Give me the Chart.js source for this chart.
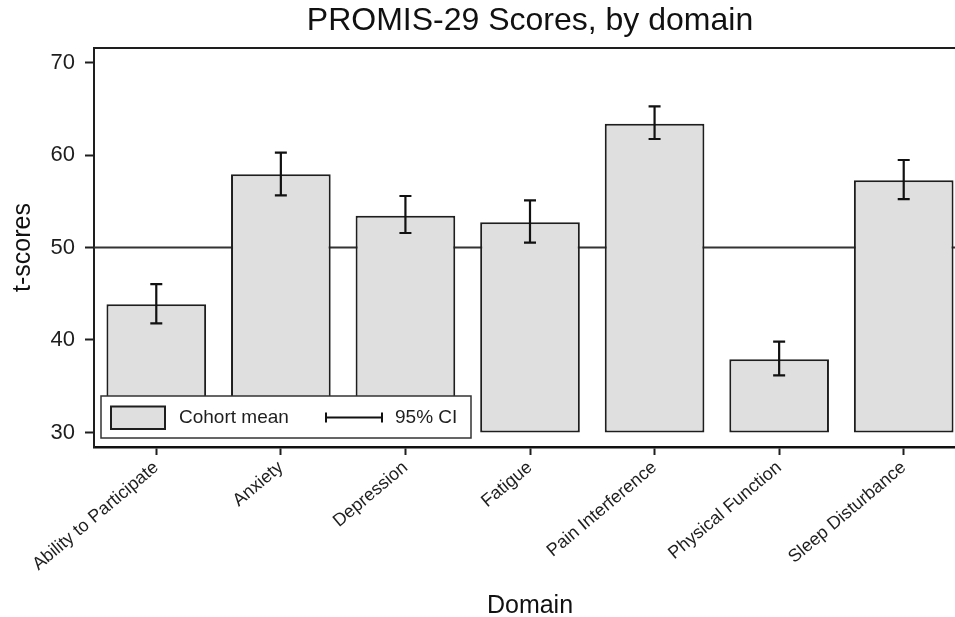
<!DOCTYPE html>
<html>
<head>
<meta charset="utf-8">
<script src="https://cdn.jsdelivr.net/npm/chart.js@4/dist/chart.umd.min.js"></script>
<style>
html, body { margin: 0; padding: 0; overflow: hidden; background: #fff; width: 955px; height: 617px; }
#wrap { width: 980px; height: 617px; }
canvas { display: block; }
</style>
</head>
<body>
<div id="wrap"><canvas id="c" width="980" height="617"></canvas></div>
<script>
// ---- data ----
const categories = ["Ability to Participate", "Anxiety", "Depression", "Fatigue", "Pain Interference", "Physical Function", "Sleep Disturbance"];
const means   = [43.86, 57.91, 53.44, 52.72, 63.38, 37.91, 57.26];
const ciLower = [41.80, 55.64, 51.57, 50.52, 61.73, 36.18, 55.24];
const ciUpper = [46.05, 60.25, 55.57, 55.10, 65.26, 39.82, 59.46];
const yTicks = [30, 40, 50, 60, 70];
const referenceValue = 50;
const barBase = 30;
const titleText = "PROMIS-29 Scores, by domain";
const xTitle = "Domain";
const yTitle = "t-scores";
const legendLabels = ["Cohort mean", "95% CI"];

// ---- styles ----
const FONT = "'Liberation Sans', Arial, Helvetica, sans-serif";
const INK = "#1e1e1e";
const BAR_FILL = "#dfdfdf";

const refLinePlugin = {
  id: 'refLine',
  beforeDatasetsDraw(chart) {
    const { ctx, chartArea, scales } = chart;
    const y = scales.y.getPixelForValue(referenceValue);
    ctx.save();
    ctx.strokeStyle = '#333';
    ctx.lineWidth = 2;
    ctx.beginPath();
    ctx.moveTo(chartArea.left, y);
    ctx.lineTo(chartArea.right, y);
    ctx.stroke();
    ctx.restore();
  }
};

const errorBarPlugin = {
  id: 'errorBars',
  afterDatasetsDraw(chart) {
    const { ctx, scales } = chart;
    const meta = chart.getDatasetMeta(0);
    ctx.save();
    ctx.strokeStyle = '#111';
    ctx.lineWidth = 2.2;
    meta.data.forEach((bar, i) => {
      const x = bar.x;
      const yl = scales.y.getPixelForValue(ciLower[i]);
      const yu = scales.y.getPixelForValue(ciUpper[i]);
      const cap = 6;
      ctx.beginPath();
      ctx.moveTo(x, yl); ctx.lineTo(x, yu);
      ctx.moveTo(x - cap, yl); ctx.lineTo(x + cap, yl);
      ctx.moveTo(x - cap, yu); ctx.lineTo(x + cap, yu);
      ctx.stroke();
    });
    ctx.restore();
  }
};

const framePlugin = {
  id: 'frame',
  afterDatasetsDraw(chart) {
    const { ctx, chartArea } = chart;
    ctx.save();
    ctx.strokeStyle = INK;
    ctx.lineWidth = 2;
    ctx.beginPath();
    ctx.moveTo(chartArea.left - 1, chartArea.top);
    ctx.lineTo(chartArea.right, chartArea.top);
    ctx.stroke();
    ctx.restore();
  }
};

const legendPlugin = {
  id: 'boxLegend',
  afterDraw(chart) {
    const { ctx, chartArea } = chart;
    const x = chartArea.left + 7, w = 370, h = 42;
    const y = chartArea.bottom - 9 - h;
    ctx.save();
    ctx.fillStyle = '#fff';
    ctx.fillRect(x, y, w, h);
    ctx.strokeStyle = '#333';
    ctx.lineWidth = 1.5;
    ctx.strokeRect(x, y, w, h);
    // swatch
    ctx.fillStyle = BAR_FILL;
    ctx.fillRect(x + 10, y + 10.5, 54, 22.5);
    ctx.strokeStyle = INK;
    ctx.lineWidth = 2;
    ctx.strokeRect(x + 10, y + 10.5, 54, 22.5);
    // text
    ctx.fillStyle = INK;
    ctx.font = "19px " + FONT;
    ctx.textBaseline = 'middle';
    ctx.textAlign = 'left';
    ctx.fillText(legendLabels[0], x + 78, y + 22);
    // CI symbol
    const cy = y + 21.5;
    ctx.strokeStyle = '#111';
    ctx.lineWidth = 2;
    ctx.beginPath();
    ctx.moveTo(x + 225, cy); ctx.lineTo(x + 281, cy);
    ctx.moveTo(x + 225, cy - 5); ctx.lineTo(x + 225, cy + 5);
    ctx.moveTo(x + 281, cy - 5); ctx.lineTo(x + 281, cy + 5);
    ctx.stroke();
    ctx.fillText(legendLabels[1], x + 294, y + 22);
    ctx.restore();
  }
};

new Chart(document.getElementById('c'), {
  type: 'bar',
  data: {
    labels: categories,
    datasets: [{
      label: legendLabels[0],
      data: categories.map((_, i) => [barBase, means[i]]),
      backgroundColor: BAR_FILL,
      borderColor: INK,
      borderWidth: 2,
      borderSkipped: false,
      barPercentage: 0.8,
      categoryPercentage: 1.0
    }]
  },
  options: {
    responsive: false,
    animation: false,
    devicePixelRatio: 1,
    layout: { padding: { left: 0, right: 14, top: 0, bottom: 0 } },
    plugins: {
      legend: { display: false },
      tooltip: { enabled: false },
      title: {
        display: true,
        text: titleText,
        fullSize: false,
        color: '#111',
        font: { family: FONT, size: 32, weight: 'normal', lineHeight: 1.2 },
        padding: { top: 2, bottom: 7.6 }
      }
    },
    scales: {
      x: {
        type: 'category',
        offset: true,
        grid: { offset: false, drawOnChartArea: false, drawTicks: true, tickLength: 8, tickWidth: 2, tickColor: INK },
        border: { display: true, color: '#111', width: 2.5 },
        ticks: { autoSkip: false, minRotation: 40, maxRotation: 40, padding: 2, color: INK, font: { family: FONT, size: 18 } },
        title: { display: true, text: xTitle, color: '#111', font: { family: FONT, size: 25, lineHeight: 0.9 }, padding: 0 },
        afterFit(scale) { scale.height = 170; }
      },
      y: {
        type: 'linear',
        min: 28.43,
        max: 71.57,
        grid: { drawOnChartArea: false, drawTicks: true, tickLength: 9, tickWidth: 2, tickColor: INK },
        border: { display: true, color: INK, width: 2 },
        ticks: { padding: 10, color: INK, font: { family: FONT, size: 22 } },
        afterBuildTicks(scale) { scale.ticks = yTicks.map(v => ({ value: v })); },
        title: { display: true, text: yTitle, color: '#111', font: { family: FONT, size: 25, lineHeight: 1.2 }, padding: { top: 8.5, bottom: 0 } },
        afterFit(scale) { scale.width = 94; }
      }
    }
  },
  plugins: [refLinePlugin, errorBarPlugin, framePlugin, legendPlugin]
});
</script>
</body>
</html>
